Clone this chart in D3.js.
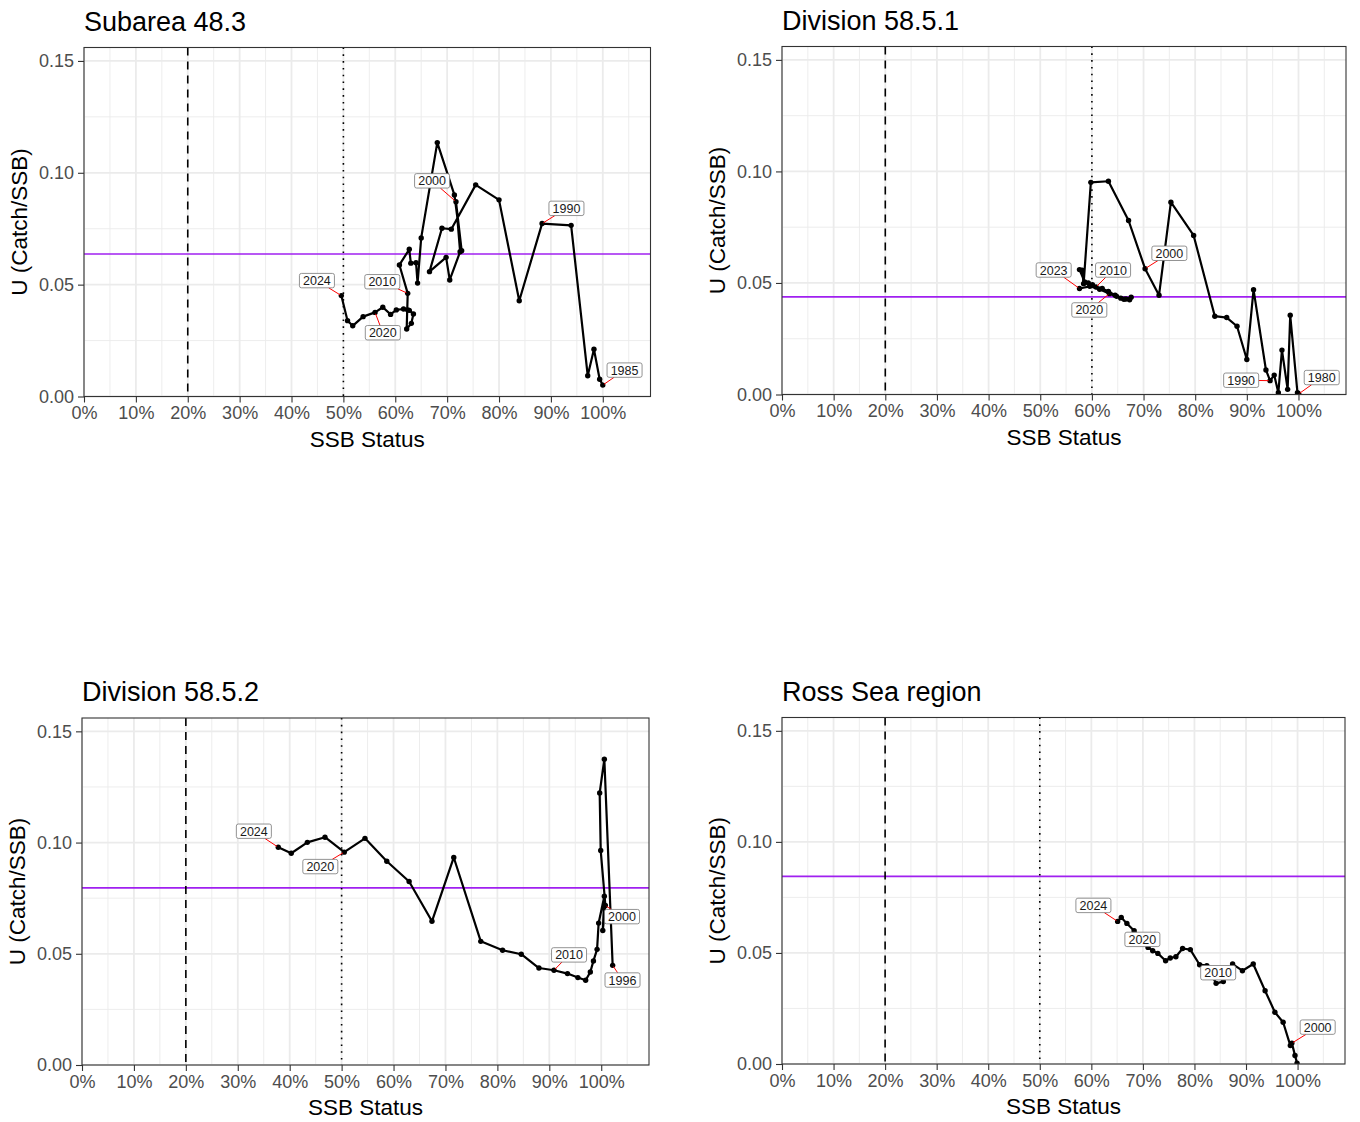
<!DOCTYPE html>
<html>
<head>
<meta charset="utf-8">
<script src="https://cdn.jsdelivr.net/npm/d3@7"></script>
<style>
body { margin: 0; background: #fff; }
svg { display: block; font-family: "Liberation Sans", Arial, sans-serif; }
</style>
</head>
<body>
<svg width="1360" height="1122"></svg>
<script>
// SSB status (%) and U (catch/SSB), one value per year from the first year on
var first483 = 1985;
var ssb483 = [100.0, 99.4, 98.3, 97.1, 93.9, 88.3, 83.9, 80.0, 75.5, 70.8,
    69.0, 66.6, 69.8, 70.5, 72.5, 71.7, 72.8, 71.4, 68.1, 65.0,
    64.3, 64.0, 63.0, 62.7, 60.8, 62.4, 62.2, 63.1, 63.5, 62.7,
    62.4, 61.6, 60.2, 59.1, 57.6, 56.1, 53.8, 51.8, 50.8, 49.6];
var u483 = [0.0051, 0.0077, 0.0211, 0.0093, 0.0765, 0.0773, 0.0428, 0.0879, 0.0946, 0.0748,
    0.0752, 0.0558, 0.0622, 0.0521, 0.0647, 0.0871, 0.0652, 0.0901, 0.1135, 0.0709,
    0.0507, 0.0598, 0.0596, 0.0658, 0.0588, 0.0461, 0.0302, 0.0327, 0.0369, 0.0385,
    0.0387, 0.0391, 0.0387, 0.0367, 0.0399, 0.0376, 0.0357, 0.0316, 0.0339, 0.0451];
var tags483 = [1985, 1990, 2000, 2010, 2020, 2024];
var tagX483 = [104.2, 93.0, 67.1, 57.5, 57.6, 44.9];
var tagY483 = [0.0118, 0.0841, 0.0964, 0.0513, 0.0285, 0.0518];

var first5851 = 1980;
var ssb5851 = [100.0, 100.0, 100.0, 100.0, 99.8, 98.4, 97.9, 96.8, 96.1, 95.3,
    94.5, 93.7, 91.3, 90.0, 88.1, 86.1, 83.8, 79.7, 75.3, 73.0,
    70.3, 67.1, 63.2, 59.8, 58.4, 58.1, 57.6, 58.6, 59.3, 60.1,
    60.8, 62.0, 63.2, 64.5, 65.6, 66.6, 67.6, 67.3, 66.2, 64.8,
    63.4, 61.5, 59.6, 57.6];
var u5851 = [0.0002, 0.0002, 0.0002, 0.0002, 0.0008, 0.0355, 0.0023, 0.0199, 0.0008, 0.0087,
    0.0062, 0.0110, 0.0470, 0.0157, 0.0306, 0.0345, 0.0351, 0.0713, 0.0862, 0.0445,
    0.0564, 0.0780, 0.0956, 0.0951, 0.0497, 0.0557, 0.0560, 0.0505, 0.0500, 0.0492,
    0.0482, 0.0475, 0.0462, 0.0445, 0.0432, 0.0428, 0.0436, 0.0425, 0.0427, 0.0440,
    0.0452, 0.0472, 0.0485, 0.0475];
var tags5851 = [1980, 1990, 2000, 2010, 2020, 2023];
var tagX5851 = [104.5, 88.9, 75.0, 64.1, 59.5, 52.6];
var tagY5851 = [0.0076, 0.0064, 0.0633, 0.0558, 0.0379, 0.0558];

var first5852 = 1996;
var ssb5852 = [102.2, 100.6, 99.7, 99.9, 100.8, 100.3, 100.6, 99.5, 99.2, 98.5,
    97.9, 97.0, 95.5, 93.5, 90.9, 88.0, 84.6, 81.0, 76.8, 71.6,
    67.4, 63.0, 58.7, 54.5, 50.5, 46.8, 43.4, 40.3, 37.8];
var u5852 = [0.0448, 0.1375, 0.1223, 0.0964, 0.0717, 0.0605, 0.0759, 0.0638, 0.0520, 0.0468,
    0.0418, 0.0381, 0.0393, 0.0411, 0.0426, 0.0436, 0.0498, 0.0516, 0.0556, 0.0933,
    0.0646, 0.0825, 0.0916, 0.1019, 0.0957, 0.1024, 0.1001, 0.0952, 0.0979];
var tags5852 = [1996, 2000, 2010, 2020, 2024];
var tagX5852 = [104.1, 104.0, 93.8, 45.9, 33.1];
var tagY5852 = [0.0382, 0.0667, 0.0495, 0.0892, 0.1051];

var firstRoss = 1998;
var ssbRoss = [99.9, 99.5, 98.9, 98.6, 97.2, 95.6, 93.7, 91.4, 89.3, 87.4,
    85.6, 84.2, 82.4, 81.0, 79.2, 77.7, 76.4, 75.3, 74.4, 72.9,
    71.9, 71.0, 69.8, 68.3, 66.9, 65.8, 65.1];
var uRoss = [0.0004, 0.0038, 0.0094, 0.0083, 0.0188, 0.0233, 0.0330, 0.0450, 0.0420, 0.0450,
    0.0371, 0.0363, 0.0443, 0.0447, 0.0515, 0.0520, 0.0483, 0.0477, 0.0465, 0.0498,
    0.0510, 0.0525, 0.0560, 0.0600, 0.0633, 0.0660, 0.0642];
var tagsRoss = [2000, 2010, 2020, 2024];
var tagXRoss = [103.9, 84.6, 69.9, 60.4];
var tagYRoss = [0.0166, 0.0411, 0.0561, 0.0714];

// target U and status reference lines
var targets = [0.0637, 0.0438, 0.0796, 0.0845];
var limitRef = 20;
var statusRefs = [50, 60, 50, 50];

var titles = ['Subarea 48.3', 'Division 58.5.1', 'Division 58.5.2', 'Ross Sea region'];
var xTicks = [0, 10, 20, 30, 40, 50, 60, 70, 80, 90, 100];
var xMinor = [5, 15, 25, 35, 45, 55, 65, 75, 85, 95, 105];
var yTicks = [0, 0.05, 0.10, 0.15];
var yMinor = [0.025, 0.075, 0.125];
var xMax = 109.2, yMax = 0.156;

var panels = [
    { first: first483, ssb: ssb483, u: u483, tags: tags483, tx: tagX483, ty: tagY483, box: [84, 47.5, 566.5, 349] },
    { first: first5851, ssb: ssb5851, u: u5851, tags: tags5851, tx: tagX5851, ty: tagY5851, box: [782, 46.5, 564, 348] },
    { first: first5852, ssb: ssb5852, u: u5852, tags: tags5852, tx: tagX5852, ty: tagY5852, box: [82, 718, 567, 347] },
    { first: firstRoss, ssb: ssbRoss, u: uRoss, tags: tagsRoss, tx: tagXRoss, ty: tagYRoss, box: [782, 717.5, 563, 346.5] }
];

var svg = d3.select('svg');
svg.append('rect').attr('width', 1360).attr('height', 1122).attr('fill', '#fff');

panels.forEach(function (p, i) {
    drawPanel(p, i);
});

function drawPanel(p, i) {
    var L = p.box[0], T = p.box[1], W = p.box[2], H = p.box[3];
    var x = d3.scaleLinear().domain([0, xMax]).range([0, W]);
    var y = d3.scaleLinear().domain([0, yMax]).range([H, 0]);
    var g = svg.append('g').attr('transform', 'translate(' + L + ',' + T + ')');

    var rows = p.ssb.map(function (s, k) {
        return { year: p.first + k, ssb: s, u: p.u[k] };
    });

    g.append('clipPath').attr('id', 'clip' + i)
        .append('rect').attr('width', W).attr('height', H);

    // grid
    g.selectAll('line.minx').data(xMinor).enter().append('line')
        .attr('x1', x).attr('x2', x).attr('y1', 0).attr('y2', H)
        .attr('stroke', '#ebebeb').attr('stroke-width', 0.9);
    g.selectAll('line.miny').data(yMinor).enter().append('line')
        .attr('y1', y).attr('y2', y).attr('x1', 0).attr('x2', W)
        .attr('stroke', '#ebebeb').attr('stroke-width', 0.9);
    g.selectAll('line.majx').data(xTicks).enter().append('line')
        .attr('x1', x).attr('x2', x).attr('y1', 0).attr('y2', H)
        .attr('stroke', '#ebebeb').attr('stroke-width', 1.8);
    g.selectAll('line.majy').data(yTicks).enter().append('line')
        .attr('y1', y).attr('y2', y).attr('x1', 0).attr('x2', W)
        .attr('stroke', '#ebebeb').attr('stroke-width', 1.8);

    var plot = g.append('g').attr('clip-path', 'url(#clip' + i + ')');

    plot.append('line')
        .attr('x1', 0).attr('x2', W)
        .attr('y1', y(targets[i])).attr('y2', y(targets[i]))
        .attr('stroke', '#a020f0').attr('stroke-width', 1.7);
    plot.append('line')
        .attr('x1', x(limitRef)).attr('x2', x(limitRef))
        .attr('y1', 0).attr('y2', H)
        .attr('stroke', '#000').attr('stroke-width', 1.6)
        .attr('stroke-dasharray', '8,6');
    plot.append('line')
        .attr('x1', x(statusRefs[i])).attr('x2', x(statusRefs[i]))
        .attr('y1', 0).attr('y2', H)
        .attr('stroke', '#000').attr('stroke-width', 1.6)
        .attr('stroke-dasharray', '1.6,5.2');

    var path = d3.line()
        .x(function (d) { return x(d.ssb); })
        .y(function (d) { return y(d.u); });
    plot.append('path')
        .datum(rows)
        .attr('d', path)
        .attr('fill', 'none')
        .attr('stroke', '#000')
        .attr('stroke-width', 2.2)
        .attr('stroke-linejoin', 'round');
    plot.selectAll('circle').data(rows).enter().append('circle')
        .attr('cx', function (d) { return x(d.ssb); })
        .attr('cy', function (d) { return y(d.u); })
        .attr('r', 2.7)
        .attr('fill', '#000');

    // year labels with leader segments
    p.tags.forEach(function (yr, k) {
        var d = rows[yr - p.first];
        var lx = x(p.tx[k]), ly = y(p.ty[k]);
        var lab = g.append('g');
        var txt = lab.append('text')
            .attr('x', lx).attr('y', ly)
            .attr('dy', '0.36em')
            .attr('text-anchor', 'middle')
            .attr('font-size', 12.5)
            .attr('fill', '#1a1a1a')
            .text(yr);
        var tw = txt.node().getComputedTextLength();
        var hw = tw / 2 + 3.6, hh = 7.2;
        var px = x(d.ssb), py = y(d.u);
        var dx = px - lx, dy = py - ly;
        var t = Math.min(dx === 0 ? Infinity : hw / Math.abs(dx), dy === 0 ? Infinity : hh / Math.abs(dy));
        var len = Math.sqrt(dx * dx + dy * dy);
        if (t < 1 && len * (1 - t) > 5) {
            var sx = lx + dx * t, sy = ly + dy * t;
            var ex = px - dx / len * 1.5, ey = py - dy / len * 1.5;
            g.insert('line', function () { return lab.node(); })
                .attr('x1', sx).attr('y1', sy).attr('x2', ex).attr('y2', ey)
                .attr('stroke', '#ff0000').attr('stroke-width', 1);
        }
        lab.insert('rect', 'text')
            .attr('x', lx - hw).attr('y', ly - hh)
            .attr('width', hw * 2).attr('height', hh * 2)
            .attr('rx', 2)
            .attr('fill', '#fff')
            .attr('stroke', '#777')
            .attr('stroke-width', 0.8);
    });

    g.append('rect')
        .attr('width', W).attr('height', H)
        .attr('fill', 'none')
        .attr('stroke', '#333')
        .attr('stroke-width', 1.1);

    var xAxis = d3.axisBottom(x)
        .tickValues(xTicks)
        .tickSize(6)
        .tickPadding(4)
        .tickFormat(function (d) { return d + '%'; });
    var yAxis = d3.axisLeft(y)
        .tickValues(yTicks)
        .tickSize(6)
        .tickPadding(4)
        .tickFormat(d3.format('.2f'));

    var ax = g.append('g').attr('transform', 'translate(0,' + H + ')').call(xAxis);
    var ay = g.append('g').call(yAxis);
    [ax, ay].forEach(function (a) {
        a.select('.domain').remove();
        a.selectAll('line').attr('stroke', '#333').attr('stroke-width', 1.1);
        a.selectAll('text')
            .attr('fill', '#4d4d4d')
            .style('font-size', '18px')
            .style('font-family', '"Liberation Sans", Arial, sans-serif');
    });

    g.append('text')
        .attr('x', W / 2).attr('y', H + 50)
        .attr('text-anchor', 'middle')
        .attr('font-size', 22.5)
        .attr('fill', '#000')
        .text('SSB Status');
    g.append('text')
        .attr('transform', 'translate(-57,' + (H / 2) + ') rotate(-90)')
        .attr('text-anchor', 'middle')
        .attr('font-size', 22.5)
        .attr('fill', '#000')
        .text('U (Catch/SSB)');
    g.append('text')
        .attr('x', 0).attr('y', -17)
        .attr('font-size', 27)
        .attr('fill', '#000')
        .text(titles[i]);
}
</script>
</body>
</html>
